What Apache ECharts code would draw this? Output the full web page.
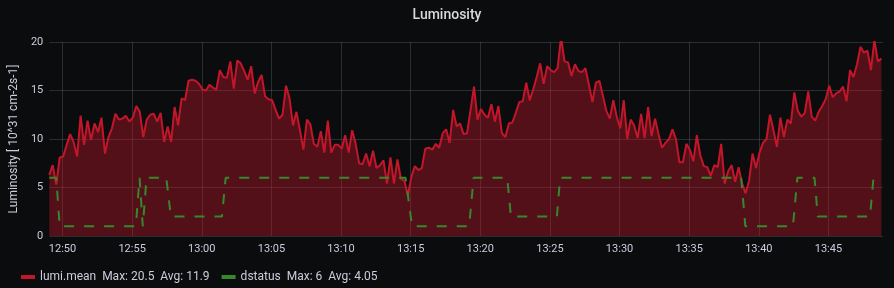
<!DOCTYPE html>
<html><head><meta charset="utf-8">
<script src="https://cdn.jsdelivr.net/npm/echarts@6/dist/echarts.min.js"></script>
<style>html,body{margin:0;padding:0;background:#0b0c0e;}#c{width:894px;height:288px;}</style>
</head><body><div id="c"></div>
<script>
const chartTitle = 'Luminosity';
const yAxisName = 'Luminosity [ 10^31 cm-2s-1]';
const yMin = 0, yMax = 20, yStep = 5;
const xRange = ['12:49:03', '13:48:55'];
const xTickLabels = ['12:50','12:55','13:00','13:05','13:10','13:15','13:20','13:25','13:30','13:35','13:40','13:45'];
const seriesNames = ['lumi.mean', 'dstatus'];
const legendStats = ['Max: 20.5  Avg: 11.9', 'Max: 6  Avg: 4.05'];

// lumi.mean sampled every 15 s starting at lumiStart
const lumiStart = '12:49:03';
const lumiStepSeconds = 15;
const lumiValues = [
  6.3, 7.3, 5.3, 8.1, 8.2, 9.4, 10.5, 9.7, 8.2, 12.4, 9.4, 11.9, 9.9, 11.6, 10.7, 12.2, 8.5, 10.2, 11.1, 12.6,
  12.0, 12.1, 12.4, 11.8, 12.2, 13.4, 12.8, 10.2, 12.0, 12.5, 12.6, 11.8, 12.7, 9.7, 11.3, 9.7, 13.3, 11.4, 14.2, 14.0,
  16.0, 16.1, 16.0, 15.7, 15.1, 15.0, 15.6, 15.3, 15.1, 17.1, 16.4, 16.3, 18.0, 15.2, 18.1, 17.8, 17.0, 16.1, 17.5, 14.7,
  15.9, 16.6,
  14.4, 14.1, 14.0, 13.0, 12.1, 12.5, 15.5, 14.2, 11.4, 12.8, 10.9, 8.9, 12.0, 11.5, 9.5, 9.2, 10.8, 8.6, 11.9, 8.6,
  9.4, 9.4, 9.0, 10.4, 8.6, 10.9, 9.5, 7.5, 7.4, 8.5, 7.2, 8.8, 7.0, 7.3, 7.8, 5.4, 8.1, 5.4, 7.9, 5.9,
  5.7, 4.2, 6.1, 7.2, 6.8, 7.0, 9.0, 9.1, 8.9, 9.5, 9.1, 10.6, 11.0, 9.6, 13.0, 11.3, 11.6, 10.5, 10.6,
  13.0, 15.4, 12.0, 13.1, 12.5, 12.2, 13.6, 11.8, 13.4, 10.6, 10.2, 11.6, 11.7, 12.7, 13.8, 13.9, 15.8, 14.0, 15.1, 16.4,
  17.8, 15.7, 17.5, 17.1, 16.9, 17.3, 20.5, 18.0, 17.9, 16.5, 17.7, 17.0, 16.9, 17.3, 15.6, 13.8, 15.8, 16.0, 14.5, 12.9,
  12.1, 14.0, 12.3, 11.1, 14.0, 10.0, 12.0, 11.4, 10.1, 12.6, 10.1, 13.3, 10.3, 12.1, 10.5, 9.1, 9.6, 10.0, 11.0, 10.0,
  7.6,
  7.6, 9.5, 8.9, 7.7, 10.4, 8.3, 7.2, 7.1, 6.2, 7.3, 7.1, 9.5, 5.4, 6.7, 7.3, 5.6, 7.1, 5.4, 4.4, 5.7,
  8.5, 7.0, 8.6, 9.6, 10.0, 12.5, 10.9, 9.2, 12.2, 10.2, 12.0, 11.6, 14.8, 12.9, 12.3, 12.7, 14.9, 12.3, 11.9, 12.8,
  13.4, 14.1, 15.5, 14.3, 14.7, 14.9, 15.4, 13.9, 17.1, 16.4, 17.7, 19.5, 18.9, 19.1, 17.1, 20.2, 18.0, 18.3
];

// dstatus breakpoints
const dstatusTimes = ['12:49:03','12:49:33','12:49:48','12:55:16','12:55:32','12:55:46','12:56:02','12:57:27','12:57:47',
  '13:01:27','13:01:43','13:14:38','13:15:06','13:19:12','13:19:31','13:21:56','13:22:12','13:25:30','13:25:44',
  '13:38:44','13:39:02','13:42:27','13:42:46','13:44:00','13:44:14','13:47:59','13:48:14','13:48:48'];
const dstatusValues = [6,6,1,1,6,1,6,6,2,2,6,6,1,1,6,6,2,2,6,6,1,1,6,6,2,2,6,6];

function toMs(hms) {
  const p = hms.split(':').map(Number);
  return new Date(2023, 0, 1, p[0], p[1], p[2] || 0).getTime();
}
const lumiData = lumiValues.map((v, i) => [toMs(lumiStart) + i * lumiStepSeconds * 1000, v]);
const dstatusData = dstatusTimes.map((t, i) => [toMs(t), dstatusValues[i]]);
const xTickValues = xTickLabels.map(toMs);

const textColor = '#ccccdc';
const gridColor = 'rgba(240,250,255,0.14)';
const font = 'Roboto';

const chart = echarts.init(document.getElementById('c'), null, {renderer: 'canvas'});
chart.setOption({
  backgroundColor: '#0b0c0e',
  animation: false,
  title: {
    text: chartTitle, left: 'center', top: 3,
    textStyle: {color: '#d8d9da', fontSize: 14, fontWeight: 500, fontFamily: font}
  },
  legend: {
    left: 16, top: 266, icon: 'rect', itemWidth: 14, itemHeight: 4, itemGap: 12,
    textStyle: {color: textColor, fontSize: 12, fontFamily: font},
    formatter: function (name) { return name + '  ' + legendStats[seriesNames.indexOf(name)]; },
    data: seriesNames
  },
  grid: {left: 48, right: 11, top: 42, bottom: 52},
  xAxis: {
    type: 'value',
    min: toMs(xRange[0]), max: toMs(xRange[1]),
    axisLine: {show: false},
    axisTick: {show: false, customValues: xTickValues},
    splitLine: {show: true, lineStyle: {color: gridColor, width: 1}},
    axisLabel: {
      color: textColor, fontSize: 11, fontFamily: font, margin: 8,
      customValues: xTickValues,
      formatter: function (v) { return xTickLabels[xTickValues.indexOf(v)] || ''; }
    }
  },
  yAxis: {
    type: 'value', min: yMin, max: yMax, interval: yStep,
    name: yAxisName, nameLocation: 'middle', nameGap: 27,
    nameTextStyle: {color: textColor, fontSize: 12, fontFamily: font},
    axisLine: {show: false}, axisTick: {show: false},
    splitLine: {lineStyle: {color: gridColor, width: 1}},
    axisLabel: {color: textColor, fontSize: 11, fontFamily: font, margin: 6}
  },
  series: [
    {
      name: seriesNames[0], type: 'line', data: lumiData, showSymbol: false, clip: true,
      lineStyle: {color: '#C4162A', width: 2},
      itemStyle: {color: '#C4162A'},
      areaStyle: {color: '#C4162A', opacity: 0.4}
    },
    {
      name: seriesNames[1], type: 'line', data: dstatusData, showSymbol: false, clip: true,
      lineStyle: {color: '#37872D', width: 2, type: [10, 10]},
      itemStyle: {color: '#37872D'}
    }
  ]
});
</script></body></html>
